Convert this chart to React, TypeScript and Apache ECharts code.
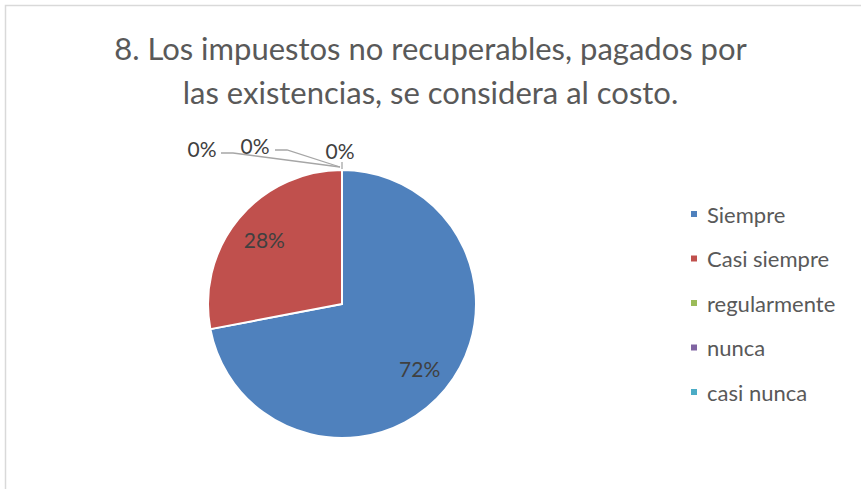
import React, { useEffect, useRef } from "react";
import * as echarts from "echarts";

const TITLE = "8. Los impuestos no recuperables, pagados por\nlas existencias, se considera al costo.";
const CATEGORIES = ["Siempre", "Casi siempre", "regularmente", "nunca", "casi nunca"];
const VALUES = [18, 7, 0, 0, 0];
const COLORS = ["#4f81bd", "#c0504d", "#9bbb59", "#8064a2", "#4bacc6"];

// layout (pixels)
const CX = 342;
const CY = 304;
const R = 134;
const FONT = "Lato, 'Open Sans', sans-serif";

// label placement for zero slices, relative to the top point of the pie
const ZERO_LABEL_LAYOUT: Record<number, { c: number[]; line: number[][] }> = {
  2: { c: [-140, -22], line: [[-121, -17], [-109, -17], [-2, -3]] },
  3: { c: [-87, -25], line: [[-67, -20], [-55, -20], [-2, -3]] },
  4: { c: [-2, -20], line: [[0, -8], [0, -1]] },
};

export default function App() {
  const ref = useRef<HTMLDivElement>(null);
  useEffect(() => {
    document.body.style.margin = "0";
    const chart = echarts.init(ref.current!, null, { renderer: "svg" });
    const data = CATEGORIES.map((name, i) => {
      const zero = VALUES[i] === 0;
      return {
        name,
        value: VALUES[i],
        itemStyle: { color: COLORS[i] },
        label: { position: zero ? "outside" : "inside" },
        labelLine: { show: zero },
      };
    });
    chart.setOption({
      animation: false,
      backgroundColor: "#ffffff",
      graphic: [
        {
          type: "rect",
          shape: { x: 5.5, y: 5.5, width: 950, height: 650 },
          style: { fill: "none", stroke: "#d9d9d9", lineWidth: 1.5 },
          silent: true,
          z: -10,
        },
      ],
      title: {
        text: TITLE,
        left: "center",
        top: 26,
        padding: 0,
        textStyle: {
          fontFamily: FONT,
          fontSize: 31,
          fontWeight: "normal",
          color: "#595959",
          lineHeight: 44,
        },
      },
      legend: {
        orient: "vertical",
        left: 684,
        top: 198,
        itemWidth: 8,
        itemHeight: 8,
        itemGap: 22.5,
        icon: "rect",
        selectedMode: false,
        data: CATEGORIES,
        textStyle: {
          fontFamily: FONT,
          fontSize: 22,
          color: "#595959",
          lineHeight: 20,
          padding: [0, 0, 0, 4],
        },
      },
      series: [
        {
          type: "pie",
          center: [CX, CY],
          radius: [0, R],
          startAngle: 90,
          clockwise: true,
          avoidLabelOverlap: false,
          data,
          itemStyle: { borderColor: "#ffffff", borderWidth: 2 },
          emphasis: { disabled: true },
          label: {
            show: true,
            formatter: "{d}%",
            fontFamily: FONT,
            fontSize: 21,
            color: "#404040",
          },
          labelLine: {
            length: 5,
            length2: 5,
            lineStyle: { color: "#a6a6a6", width: 1.3 },
          },
          labelLayout: (params: any) => {
            const i = params.dataIndex;
            const z = ZERO_LABEL_LAYOUT[i];
            if (VALUES[i] === 0 && z) {
              const tx = CX;
              const ty = CY - R;
              return {
                x: tx + z.c[0],
                y: ty + z.c[1],
                align: "center",
                verticalAlign: "middle",
                labelLinePoints: z.line.map((p) => [tx + p[0], ty + p[1]]),
              };
            }
            const lr = params.labelRect;
            const lx = lr.x + lr.width / 2;
            const ly = lr.y + lr.height / 2;
            const k = 1.44;
            return {
              x: CX + (lx - CX) * k,
              y: CY + (ly - CY) * k,
              align: "center",
              verticalAlign: "middle",
            };
          },
        },
      ],
    });
    return () => chart.dispose();
  }, []);
  return (
    <div
      ref={ref}
      style={{ position: "absolute", left: 0, top: 0, width: 861, height: 489 }}
    />
  );
}
